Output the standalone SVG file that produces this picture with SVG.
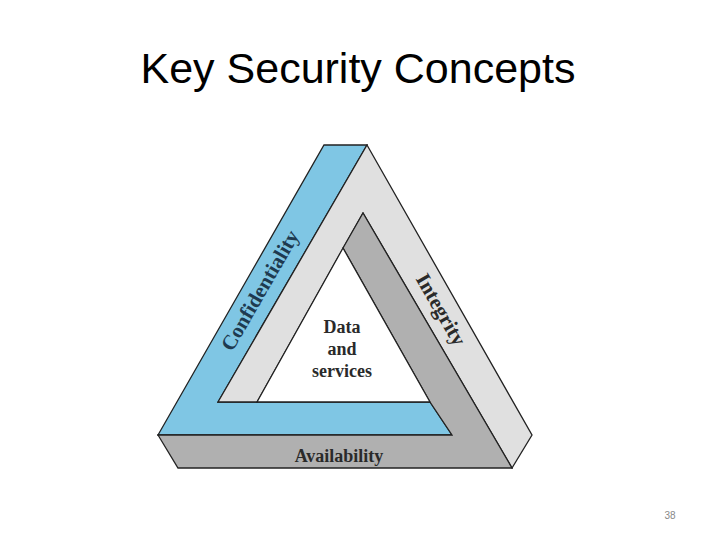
<svg xmlns="http://www.w3.org/2000/svg" width="720" height="540" viewBox="0 0 720 540">
<style>
.f{stroke:#222;stroke-width:1.3;stroke-linejoin:miter}
.l{font-family:"Liberation Serif",serif;font-weight:bold;fill:#2a2a2a}
</style>
<rect width="720" height="540" fill="#fff"/>
<text x="358" y="83" font-family="Liberation Sans,Arial,sans-serif" font-size="43" text-anchor="middle" fill="#000">Key Security Concepts</text>
<g id="triangle">
<polygon id="blue" class="f" fill="#7fc6e4" points="324,145 367,145 218,402 430,402 452,435 158,435"/>
<polygon id="light" class="f" fill="#e0e0e0" points="367,145 532,435 512,468 363,213 257,402 218,402"/>
<polygon id="dark" class="f" fill="#b0b0b0" points="158,435 452,435 430,402 343,248 363,213 512,468 178,468"/>
<polygon id="inner" class="f" fill="#fff" points="343,248 430,402 257,402"/>
</g>
<g id="labels">
<text class="l" font-size="21" text-anchor="middle" transform="translate(266,294) rotate(-60)" style="fill:#1e3a50">Confidentiality</text>
<text class="l" font-size="21" text-anchor="middle" transform="translate(435,313) rotate(60)">Integrity</text>
<text class="l" font-size="18" text-anchor="middle" x="339" y="462">Availability</text>
<text class="l" font-size="18" text-anchor="middle" x="342" y="333">Data</text>
<text class="l" font-size="18" text-anchor="middle" x="342" y="355">and</text>
<text class="l" font-size="18" text-anchor="middle" x="342" y="377">services</text>
</g>
<text x="670" y="519" font-family="Liberation Sans,Arial,sans-serif" font-size="10" text-anchor="middle" fill="#888">38</text>
</svg>
